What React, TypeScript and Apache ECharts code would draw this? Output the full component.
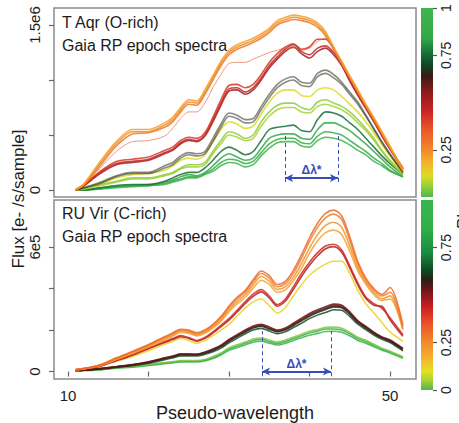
import React, { useEffect, useRef } from "react";
import * as echarts from "echarts";

// Pseudo-wavelength sample positions
const wavelength = [10.9, 12, 14, 16, 18, 20, 22, 23, 24, 25, 26, 27, 28, 29, 30, 31, 32, 33, 34, 35, 36, 37, 38, 39, 40, 41, 42, 43, 44, 45, 46, 47, 48, 49, 50, 51.6];

// ---- T Aqr (O-rich): flux in units of 1e6 e-/s/sample ----
const tAqrOrangeA = [0.00, 0.05, 0.24, 0.42, 0.53, 0.53, 0.59, 0.64, 0.73, 0.80, 0.79, 0.89, 1.02, 1.15, 1.25, 1.30, 1.33, 1.36, 1.40, 1.45, 1.52, 1.55, 1.57, 1.56, 1.54, 1.50, 1.42, 1.29, 1.16, 1.03, 0.90, 0.77, 0.65, 0.52, 0.39, 0.18];
const tAqrOrangeB = [0.00, 0.06, 0.26, 0.44, 0.55, 0.55, 0.61, 0.66, 0.75, 0.82, 0.81, 0.91, 1.04, 1.17, 1.27, 1.32, 1.35, 1.38, 1.42, 1.47, 1.54, 1.57, 1.59, 1.58, 1.56, 1.52, 1.44, 1.30, 1.17, 1.04, 0.91, 0.78, 0.66, 0.53, 0.40, 0.19];
const tAqrOrangeC = [0.00, 0.05, 0.22, 0.40, 0.51, 0.52, 0.57, 0.62, 0.71, 0.78, 0.77, 0.87, 1.00, 1.13, 1.23, 1.28, 1.31, 1.34, 1.38, 1.43, 1.50, 1.53, 1.55, 1.54, 1.52, 1.48, 1.40, 1.28, 1.15, 1.02, 0.89, 0.76, 0.64, 0.51, 0.38, 0.17];
const tAqrSalmon = [0.00, 0.05, 0.20, 0.35, 0.44, 0.45, 0.49, 0.56, 0.65, 0.71, 0.71, 0.79, 0.93, 1.05, 1.15, 1.16, 1.16, 1.19, 1.22, 1.25, 1.27, 1.29, 1.29, 1.27, 1.29, 1.35, 1.38, 1.29, 1.16, 1.03, 0.90, 0.77, 0.65, 0.52, 0.39, 0.18];
const tAqrRedA = [0.00, 0.04, 0.16, 0.24, 0.26, 0.28, 0.34, 0.37, 0.43, 0.46, 0.45, 0.50, 0.64, 0.79, 0.92, 0.93, 0.89, 0.93, 1.02, 1.13, 1.21, 1.28, 1.32, 1.26, 1.23, 1.29, 1.31, 1.25, 1.15, 1.00, 0.87, 0.75, 0.63, 0.50, 0.38, 0.20];
const tAqrRedB = [0.00, 0.04, 0.15, 0.23, 0.25, 0.27, 0.33, 0.36, 0.42, 0.45, 0.44, 0.49, 0.62, 0.77, 0.90, 0.91, 0.87, 0.91, 1.00, 1.11, 1.19, 1.26, 1.30, 1.24, 1.20, 1.26, 1.29, 1.23, 1.13, 0.99, 0.86, 0.74, 0.62, 0.49, 0.37, 0.19];
const tAqrRedC = [0.00, 0.05, 0.17, 0.26, 0.28, 0.30, 0.36, 0.39, 0.45, 0.48, 0.47, 0.52, 0.66, 0.82, 0.95, 0.96, 0.93, 0.96, 1.05, 1.16, 1.24, 1.30, 1.33, 1.28, 1.30, 1.37, 1.37, 1.28, 1.16, 1.02, 0.89, 0.76, 0.64, 0.51, 0.38, 0.19];
const tAqrGrayA = [0.00, 0.02, 0.07, 0.13, 0.16, 0.16, 0.22, 0.25, 0.31, 0.34, 0.33, 0.35, 0.47, 0.60, 0.70, 0.68, 0.64, 0.65, 0.76, 0.87, 0.96, 1.01, 1.03, 0.98, 0.97, 1.06, 1.09, 1.05, 0.98, 0.89, 0.80, 0.68, 0.56, 0.44, 0.33, 0.16];
const tAqrGrayB = [0.00, 0.02, 0.06, 0.12, 0.15, 0.15, 0.20, 0.23, 0.29, 0.32, 0.31, 0.33, 0.44, 0.57, 0.67, 0.65, 0.61, 0.62, 0.73, 0.84, 0.93, 0.98, 1.00, 0.95, 0.94, 1.03, 1.06, 1.02, 0.96, 0.87, 0.78, 0.67, 0.55, 0.43, 0.32, 0.16];
const tAqrYellowGreen = [0.00, 0.02, 0.06, 0.11, 0.14, 0.15, 0.18, 0.22, 0.27, 0.29, 0.28, 0.32, 0.44, 0.55, 0.62, 0.60, 0.56, 0.58, 0.69, 0.80, 0.88, 0.91, 0.91, 0.86, 0.85, 0.91, 0.93, 0.91, 0.85, 0.78, 0.71, 0.62, 0.52, 0.41, 0.31, 0.16];
const tAqrLightGreenA = [0.00, 0.01, 0.05, 0.08, 0.11, 0.11, 0.14, 0.16, 0.20, 0.23, 0.23, 0.25, 0.35, 0.45, 0.53, 0.51, 0.47, 0.50, 0.62, 0.71, 0.77, 0.79, 0.79, 0.75, 0.73, 0.80, 0.82, 0.79, 0.76, 0.71, 0.64, 0.56, 0.47, 0.36, 0.27, 0.15];
const tAqrLightGreenB = [0.00, 0.01, 0.04, 0.07, 0.10, 0.10, 0.13, 0.15, 0.19, 0.21, 0.21, 0.23, 0.33, 0.42, 0.50, 0.48, 0.45, 0.47, 0.58, 0.67, 0.73, 0.75, 0.75, 0.71, 0.70, 0.76, 0.78, 0.76, 0.73, 0.68, 0.61, 0.54, 0.45, 0.35, 0.26, 0.14];
const tAqrDarkGreen = [0.00, 0.00, 0.02, 0.04, 0.05, 0.05, 0.08, 0.11, 0.14, 0.16, 0.16, 0.20, 0.27, 0.35, 0.39, 0.36, 0.32, 0.35, 0.45, 0.55, 0.57, 0.58, 0.59, 0.54, 0.53, 0.64, 0.71, 0.70, 0.67, 0.61, 0.55, 0.47, 0.39, 0.31, 0.24, 0.14];
const tAqrGreenMid = [0.00, 0.00, 0.02, 0.03, 0.04, 0.04, 0.07, 0.09, 0.12, 0.14, 0.13, 0.16, 0.22, 0.29, 0.33, 0.30, 0.27, 0.29, 0.38, 0.47, 0.50, 0.51, 0.51, 0.47, 0.46, 0.55, 0.61, 0.61, 0.58, 0.54, 0.48, 0.42, 0.35, 0.28, 0.21, 0.12];
const tAqrGreenLowA = [0.00, 0.00, 0.01, 0.02, 0.03, 0.04, 0.05, 0.07, 0.09, 0.11, 0.11, 0.14, 0.17, 0.22, 0.25, 0.24, 0.21, 0.23, 0.31, 0.38, 0.43, 0.44, 0.44, 0.40, 0.39, 0.45, 0.48, 0.47, 0.45, 0.41, 0.36, 0.32, 0.26, 0.22, 0.17, 0.12];
const tAqrGreenLowB = [0.00, 0.00, 0.01, 0.03, 0.04, 0.05, 0.06, 0.08, 0.10, 0.12, 0.12, 0.15, 0.19, 0.25, 0.28, 0.27, 0.24, 0.26, 0.34, 0.42, 0.46, 0.47, 0.47, 0.43, 0.42, 0.49, 0.53, 0.52, 0.50, 0.45, 0.40, 0.35, 0.29, 0.24, 0.18, 0.12];

// ---- RU Vir (C-rich): flux in units of 1e5 e-/s/sample ----
const ruVirOrangeA = [0.09, 0.14, 0.32, 0.64, 0.95, 1.27, 1.64, 1.82, 2.00, 1.95, 1.82, 1.95, 2.23, 2.59, 3.09, 3.50, 3.82, 4.32, 4.73, 4.50, 4.09, 4.23, 4.73, 5.45, 6.27, 6.95, 7.41, 7.59, 7.32, 6.32, 5.18, 4.41, 3.91, 3.64, 3.82, 2.14];
const ruVirOrangeB = [0.09, 0.14, 0.30, 0.60, 0.90, 1.22, 1.58, 1.76, 1.94, 1.90, 1.77, 1.90, 2.16, 2.50, 2.98, 3.38, 3.70, 4.18, 4.58, 4.36, 3.96, 4.08, 4.55, 5.20, 5.95, 6.60, 7.05, 7.20, 6.95, 6.05, 5.00, 4.30, 3.80, 3.50, 3.65, 2.05];
const ruVirOrangeC = [0.09, 0.15, 0.33, 0.66, 0.97, 1.30, 1.68, 1.86, 2.04, 2.00, 1.87, 2.00, 2.28, 2.65, 3.16, 3.58, 3.90, 4.42, 4.85, 4.62, 4.20, 4.35, 4.88, 5.62, 6.45, 7.15, 7.62, 7.78, 7.50, 6.50, 5.30, 4.50, 4.00, 3.72, 4.05, 2.25];
const ruVirOrangeD = [0.09, 0.13, 0.29, 0.58, 0.87, 1.18, 1.52, 1.70, 1.88, 1.84, 1.72, 1.84, 2.10, 2.42, 2.88, 3.26, 3.58, 4.02, 4.40, 4.20, 3.82, 3.94, 4.38, 4.98, 5.70, 6.30, 6.70, 6.82, 6.60, 5.80, 4.85, 4.20, 3.70, 3.42, 3.50, 2.00];
const ruVirRedA = [0.09, 0.14, 0.27, 0.55, 0.82, 1.14, 1.45, 1.59, 1.73, 1.64, 1.50, 1.64, 1.91, 2.23, 2.55, 2.95, 3.36, 3.73, 3.95, 3.64, 3.23, 3.50, 4.09, 4.73, 5.27, 5.73, 6.05, 6.14, 5.86, 5.09, 4.27, 3.59, 3.27, 3.05, 2.59, 1.77];
const ruVirRedB = [0.09, 0.13, 0.26, 0.52, 0.79, 1.10, 1.40, 1.54, 1.68, 1.60, 1.46, 1.60, 1.86, 2.17, 2.48, 2.87, 3.27, 3.62, 3.84, 3.55, 3.15, 3.40, 3.96, 4.58, 5.12, 5.58, 5.92, 6.02, 5.75, 5.00, 4.18, 3.52, 3.20, 3.15, 2.50, 1.70];
const ruVirYellow = [0.09, 0.14, 0.27, 0.50, 0.73, 1.00, 1.32, 1.45, 1.59, 1.50, 1.36, 1.50, 1.73, 2.00, 2.27, 2.68, 3.05, 3.36, 3.50, 3.18, 2.82, 3.09, 3.64, 4.18, 4.64, 4.95, 5.18, 5.32, 5.32, 4.73, 3.91, 3.27, 2.82, 2.36, 1.91, 1.45];
const ruVirBrownA = [0.05, 0.07, 0.14, 0.23, 0.32, 0.45, 0.64, 0.73, 0.82, 0.82, 0.82, 0.91, 1.05, 1.23, 1.50, 1.73, 1.95, 2.14, 2.23, 2.09, 1.95, 2.05, 2.27, 2.50, 2.73, 2.91, 3.05, 3.18, 3.14, 2.82, 2.41, 2.14, 1.86, 1.64, 1.50, 1.09];
const ruVirBrownB = [0.05, 0.07, 0.15, 0.24, 0.34, 0.47, 0.66, 0.75, 0.85, 0.85, 0.84, 0.94, 1.09, 1.27, 1.55, 1.78, 2.00, 2.20, 2.28, 2.15, 2.00, 2.10, 2.33, 2.57, 2.80, 2.98, 3.12, 3.25, 3.20, 2.88, 2.46, 2.18, 1.90, 1.67, 1.52, 1.12];
const ruVirBlack = [0.05, 0.06, 0.13, 0.22, 0.31, 0.43, 0.62, 0.71, 0.80, 0.80, 0.80, 0.89, 1.02, 1.20, 1.46, 1.69, 1.91, 2.10, 2.19, 2.05, 1.91, 2.01, 2.22, 2.45, 2.67, 2.85, 2.99, 3.12, 3.08, 2.77, 2.37, 2.10, 1.83, 1.61, 1.46, 1.06];
const ruVirDarkGreen = [0.05, 0.06, 0.12, 0.20, 0.28, 0.40, 0.57, 0.66, 0.75, 0.75, 0.75, 0.83, 0.96, 1.13, 1.38, 1.60, 1.82, 2.00, 2.08, 1.95, 1.82, 1.92, 2.12, 2.33, 2.55, 2.72, 2.85, 2.98, 2.95, 2.66, 2.28, 2.02, 1.76, 1.55, 1.40, 1.00];
const ruVirGreenA = [0.05, 0.05, 0.09, 0.18, 0.23, 0.32, 0.41, 0.45, 0.50, 0.50, 0.50, 0.55, 0.68, 0.86, 1.09, 1.23, 1.36, 1.50, 1.55, 1.45, 1.36, 1.45, 1.59, 1.73, 1.86, 1.95, 2.05, 2.05, 2.00, 1.82, 1.59, 1.45, 1.27, 1.09, 0.95, 0.68];
const ruVirGreenB = [0.05, 0.05, 0.08, 0.16, 0.21, 0.29, 0.38, 0.42, 0.46, 0.46, 0.46, 0.51, 0.63, 0.80, 1.02, 1.15, 1.28, 1.41, 1.46, 1.37, 1.28, 1.36, 1.50, 1.63, 1.75, 1.84, 1.93, 1.94, 1.89, 1.72, 1.50, 1.37, 1.20, 1.03, 0.90, 0.64];
const ruVirGreenC = [0.05, 0.06, 0.10, 0.19, 0.25, 0.34, 0.44, 0.48, 0.53, 0.53, 0.53, 0.58, 0.72, 0.90, 1.14, 1.29, 1.42, 1.57, 1.62, 1.52, 1.43, 1.52, 1.66, 1.80, 1.94, 2.03, 2.13, 2.14, 2.09, 1.90, 1.66, 1.51, 1.32, 1.13, 0.98, 0.71];

// epoch phases (colour-coded)
const tAqrSpectra = [
  { phase: 0.98, flux: tAqrGreenLowA },
  { phase: 0.9, flux: tAqrGreenLowB },
  { phase: 0.84, flux: tAqrGreenMid },
  { phase: 0.76, flux: tAqrDarkGreen },
  { phase: 0.07, flux: tAqrLightGreenB },
  { phase: 0.05, flux: tAqrLightGreenA },
  { phase: 0.11, flux: tAqrYellowGreen },
  { phase: 0.67, flux: tAqrGrayB },
  { phase: 0.66, flux: tAqrGrayA },
  { phase: 0.52, flux: tAqrRedB },
  { phase: 0.46, flux: tAqrRedA },
  { phase: 0.42, flux: tAqrRedC },
  { phase: 0.36, flux: tAqrSalmon },
  { phase: 0.29, flux: tAqrOrangeC },
  { phase: 0.25, flux: tAqrOrangeA },
  { phase: 0.21, flux: tAqrOrangeB },
];
const ruVirSpectra = [
  { phase: 0.95, flux: ruVirGreenB },
  { phase: 0.85, flux: ruVirGreenA },
  { phase: 0.03, flux: ruVirGreenC },
  { phase: 0.64, flux: ruVirDarkGreen },
  { phase: 0.58, flux: ruVirBlack },
  { phase: 0.53, flux: ruVirBrownB },
  { phase: 0.55, flux: ruVirBrownA },
  { phase: 0.12, flux: ruVirYellow },
  { phase: 0.46, flux: ruVirRedB },
  { phase: 0.42, flux: ruVirRedA },
  { phase: 0.2, flux: ruVirOrangeD },
  { phase: 0.23, flux: ruVirOrangeB },
  { phase: 0.27, flux: ruVirOrangeA },
  { phase: 0.31, flux: ruVirOrangeC },
];

// Δλ* annotations: [x start, x end]
const tAqrDeltaLambda = [36.96, 43.54];
const ruVirDeltaLambda = [34.1, 42.67];

const xTicks = [10, 20, 30, 40, 50];
const xTickLabels = [10, 50];
const tAqrYTicks = [0, 0.5, 1, 1.5];
const tAqrYLabels = [0, 1.5];
const ruVirYTicks = [0, 2, 4, 6];
const ruVirYLabels = [0, 6];
const cbTopTicks = [0.25, 0.75, 1];
const cbBotTicks = [0, 0.25, 0.75];

const topStops: [number, string][] = [
  [0, "#4cb848"], [0.05, "#8ccc3c"], [0.11, "#dcdc22"], [0.17, "#f5b82a"], [0.25, "#f08a28"],
  [0.35, "#ea5a2a"], [0.45, "#cc2624"], [0.56, "#8a1a1c"], [0.64, "#3a1a14"], [0.7, "#0e4a26"],
  [0.76, "#16703a"], [0.84, "#34a848"], [1, "#40b44c"],
];
const botStops: [number, string][] = [
  [0, "#50b848"], [0.05, "#a8d038"], [0.1, "#e6e020"], [0.17, "#f5b030"], [0.25, "#f08a2a"],
  [0.35, "#ea5228"], [0.43, "#cc2222"], [0.52, "#7a1418"], [0.58, "#2a2014"], [0.63, "#0c4a24"],
  [0.72, "#1a8a40"], [0.85, "#30b048"], [1, "#3cb44c"],
];

function hexToRgb(h: string) {
  const n = parseInt(h.slice(1), 16);
  return [(n >> 16) & 255, (n >> 8) & 255, n & 255];
}
function cmap(stops: [number, string][], v: number) {
  for (let i = 0; i < stops.length - 1; i++) {
    const [a, ca] = stops[i];
    const [b, cb] = stops[i + 1];
    if (v >= a && v <= b) {
      const t = (v - a) / (b - a);
      const A = hexToRgb(ca), B = hexToRgb(cb);
      const c = A.map((x, k) => Math.round(x + (B[k] - x) * t));
      return `rgb(${c[0]},${c[1]},${c[2]})`;
    }
  }
  return stops[stops.length - 1][1];
}

const FONT = "'Liberation Sans', Arial, sans-serif";
const TXT = "#1c1c1c";
const BLUE = "#3a4db5";
const X_MIN = 8.26;
const X_MAX = 53.23;

function deltaSeries(xi: number, yi: number, dl: number[], yLo: number, yHi: number, yA: number) {
  const lbl = { show: true, formatter: "Δλ*", position: "insideMiddleTop", distance: 2, color: BLUE, fontSize: 12, fontWeight: "bold", fontFamily: FONT };
  return {
    type: "line",
    xAxisIndex: xi,
    yAxisIndex: yi,
    data: [],
    silent: true,
    markLine: {
      silent: true,
      animation: false,
      symbol: ["none", "none"],
      lineStyle: { color: BLUE, width: 1, type: [4, 3] },
      label: { show: false },
      data: [
        [{ coord: [dl[0], yLo] }, { coord: [dl[0], yHi] }],
        [{ coord: [dl[1], yLo] }, { coord: [dl[1], yHi] }],
        [
          { coord: [dl[0], yA], symbol: "arrow", symbolSize: [6, 8], lineStyle: { color: BLUE, width: 1.8, type: "solid" }, label: lbl },
          { coord: [dl[1], yA], symbol: "arrow", symbolSize: [6, 8], lineStyle: { color: BLUE, width: 1.8, type: "solid" }, label: lbl },
        ],
      ],
    },
  };
}

function spectraSeries(list: { phase: number; flux: number[] }[], stops: [number, string][], idx: number) {
  return list.map((s) => {
    const isGray = idx === 0 && s.phase > 0.6 && s.phase < 0.7;
    const isThin = idx === 0 && s.phase > 0.34 && s.phase < 0.38;
    return {
      type: "line",
      xAxisIndex: idx,
      yAxisIndex: idx,
      showSymbol: false,
      silent: true,
      smooth: 0.3,
      lineStyle: {
        width: isThin ? 1 : 1.6,
        color: cmap(stops, s.phase),
        opacity: isGray ? 0.55 : isThin ? 0.6 : 0.85,
      },
      data: wavelength.map((x, i) => [x, s.flux[i]]),
    };
  });
}

function gradient(stops: [number, string][]) {
  return new echarts.graphic.LinearGradient(0, 1, 0, 0, stops.map(([o, c]) => ({ offset: o, color: c })));
}

export default function App() {
  const ref = useRef<HTMLDivElement>(null);
  useEffect(() => {
    if (!ref.current) return;
    const chart = echarts.init(ref.current, null, { renderer: "svg" });
    const yAxisCommon = (ticks: number[], labels: number[], fmt: (v: number) => string, min: number, max: number, gi: number) => ({
      type: "value",
      gridIndex: gi,
      min,
      max,
      axisLine: { show: false },
      splitLine: { show: false },
      axisTick: { show: true, customValues: ticks, length: 5, lineStyle: { color: "#666", width: 1.2 } },
      axisLabel: { customValues: labels, rotate: 90, margin: 12, fontSize: 15, color: TXT, fontFamily: FONT, formatter: fmt },
    });
    const cbAxis = (ticks: number[], gi: number) => ({
      type: "value",
      gridIndex: gi,
      position: "right",
      min: 0,
      max: 1,
      axisLine: { show: false },
      splitLine: { show: false },
      axisTick: { show: true, customValues: ticks, length: 4, lineStyle: { color: "#555", width: 1.2 } },
      axisLabel: { customValues: ticks, rotate: 90, margin: 6, fontSize: 14, color: TXT, fontFamily: FONT, formatter: (v: number) => String(v) },
    });
    chart.setOption({
      animation: false,
      backgroundColor: "#ffffff",
      grid: [
        { left: 54, top: 8, width: 362, height: 189, show: true, borderColor: "#8a8a8a", borderWidth: 1.5, backgroundColor: "#fff" },
        { left: 54, top: 200, width: 362, height: 190, show: true, borderColor: "#8a8a8a", borderWidth: 1.5, backgroundColor: "#fff" },
        { left: 421, top: 8, width: 12, height: 189 },
        { left: 421, top: 200, width: 12, height: 190 },
      ],
      xAxis: [
        { type: "value", gridIndex: 0, min: X_MIN, max: X_MAX, show: false },
        {
          type: "value", gridIndex: 1, min: X_MIN, max: X_MAX,
          axisLine: { show: false },
          splitLine: { show: false },
          axisTick: { show: true, customValues: xTicks, length: 5, lineStyle: { color: "#666", width: 1.2 } },
          axisLabel: { customValues: xTickLabels, margin: 9, fontSize: 15, color: TXT, fontFamily: FONT },
          name: "Pseudo-wavelength",
          nameLocation: "middle",
          nameGap: 24,
          nameTextStyle: { fontSize: 18, color: TXT, fontFamily: FONT },
        },
        { type: "category", gridIndex: 2, data: ["c"], show: false },
        { type: "category", gridIndex: 3, data: ["c"], show: false },
      ],
      yAxis: [
        yAxisCommon(tAqrYTicks, tAqrYLabels, (v) => (v === 0 ? "0" : v + "e6"), -0.0636, 1.6545, 0),
        yAxisCommon(ruVirYTicks, ruVirYLabels, (v) => (v === 0 ? "0" : v + "e5"), -0.364, 8.27, 1),
        cbAxis(cbTopTicks, 2),
        cbAxis(cbBotTicks, 3),
      ],
      graphic: [
        { type: "text", x: 62, y: 14, style: { text: "T Aqr (O-rich)", font: `16px ${FONT}`, fill: TXT } },
        { type: "text", x: 62, y: 37, style: { text: "Gaia RP epoch spectra", font: `16px ${FONT}`, fill: TXT } },
        { type: "text", x: 62, y: 205, style: { text: "RU Vir (C-rich)", font: `16px ${FONT}`, fill: TXT } },
        { type: "text", x: 62, y: 228, style: { text: "Gaia RP epoch spectra", font: `16px ${FONT}`, fill: TXT } },
        { type: "text", x: 18, y: 199, rotation: Math.PI / 2, style: { text: "Flux [e- /s/sample]", font: `17px ${FONT}`, fill: TXT, align: "center", verticalAlign: "middle" } },
        { type: "text", x: 463, y: 205, rotation: Math.PI / 2, style: { text: "Phase", font: `17px ${FONT}`, fill: TXT, align: "center", verticalAlign: "middle" } },
      ],
      series: [
        ...spectraSeries(tAqrSpectra, topStops, 0),
        ...spectraSeries(ruVirSpectra, botStops, 1),
        deltaSeries(0, 0, tAqrDeltaLambda, 0.073, 0.5, 0.109),
        deltaSeries(1, 1, ruVirDeltaLambda, -0.23, 1.95, 0.0),
        { type: "bar", xAxisIndex: 2, yAxisIndex: 2, data: [1], barWidth: "100%", silent: true, itemStyle: { color: gradient(topStops) } },
        { type: "bar", xAxisIndex: 3, yAxisIndex: 3, data: [1], barWidth: "100%", silent: true, itemStyle: { color: gradient(botStops) } },
      ],
    });
    return () => chart.dispose();
  }, []);
  return <div ref={ref} style={{ width: 459, height: 423, position: "absolute", left: 0, top: 0 }} />;
}
